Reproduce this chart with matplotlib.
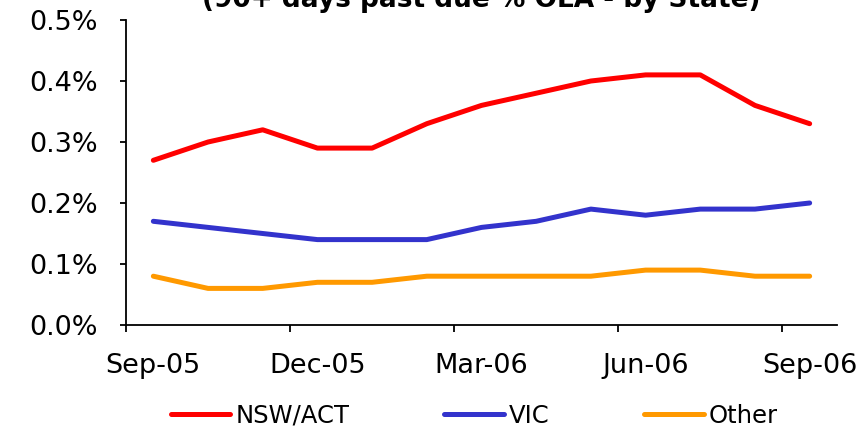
import numpy as np
import matplotlib
import matplotlib.pyplot as plt
from matplotlib.ticker import FixedLocator, FuncFormatter

matplotlib.use('Agg')

months = ['Sep-05', 'Oct-05', 'Nov-05', 'Dec-05', 'Jan-06', 'Feb-06', 'Mar-06',
          'Apr-06', 'May-06', 'Jun-06', 'Jul-06', 'Aug-06', 'Sep-06']
nsw_act = [0.27, 0.30, 0.32, 0.29, 0.29, 0.33, 0.36, 0.38, 0.40, 0.41, 0.41, 0.36, 0.33]
vic = [0.17, 0.16, 0.15, 0.14, 0.14, 0.14, 0.16, 0.17, 0.19, 0.18, 0.19, 0.19, 0.20]
other = [0.08, 0.06, 0.06, 0.07, 0.07, 0.08, 0.08, 0.08, 0.08, 0.09, 0.09, 0.08, 0.08]

plt.rcParams['font.family'] = ['DejaVu Sans']

fig = plt.figure(figsize=(8.59, 4.28), dpi=100)
ax = fig.add_axes([126 / 859, 1 - 325 / 428, (837 - 126) / 859, (325 - 20) / 428])

x = np.arange(len(months))
ax.plot(x, nsw_act, color='#ff0000', lw=3.6, label='NSW/ACT', solid_capstyle='round')
ax.plot(x, vic, color='#3333cc', lw=3.6, label='VIC', solid_capstyle='round')
ax.plot(x, other, color='#ff9900', lw=3.6, label='Other', solid_capstyle='round')

ax.set_xlim(-0.5, len(months) - 0.5)
ax.set_ylim(0, 0.5)

# ticks between categories every quarter, labels on the quarter months
ax.xaxis.set_major_locator(FixedLocator([-0.5, 2.5, 5.5, 8.5, 11.5]))
ax.xaxis.set_major_formatter(FuncFormatter(lambda v, p: ''))
lab_pos = [0, 3, 6, 9, 12]
ax.xaxis.set_minor_locator(FixedLocator(lab_pos))
ax.xaxis.set_minor_formatter(FuncFormatter(lambda v, p: months[int(round(v))]))
ax.tick_params(axis='x', which='major', direction='out', length=5, width=1.3)
ax.tick_params(axis='x', which='minor', length=0, pad=20, labelsize=19.5)

ax.set_yticks(np.arange(0, 0.51, 0.1))
ax.yaxis.set_major_formatter(FuncFormatter(lambda v, p: f'{v:.1f}%'))
ax.tick_params(axis='y', direction='out', length=4.5, width=1.3, pad=16, labelsize=19.5)

for s in ['top', 'right']:
    ax.spines[s].set_visible(False)
for s in ['left', 'bottom']:
    ax.spines[s].set_linewidth(1.3)

ax.text(0.5, 1 + 13 / 305, '(90+ days past due % OLA - by State)', transform=ax.transAxes,
        ha='center', va='baseline', fontsize=19, fontweight='bold')

fig.legend(loc='lower center', bbox_to_anchor=(0.552, -0.05), ncol=3, frameon=False,
           fontsize=17.5, handlelength=2.45, handletextpad=0.2, columnspacing=3.9)

fig.savefig('out.png', dpi=100)
